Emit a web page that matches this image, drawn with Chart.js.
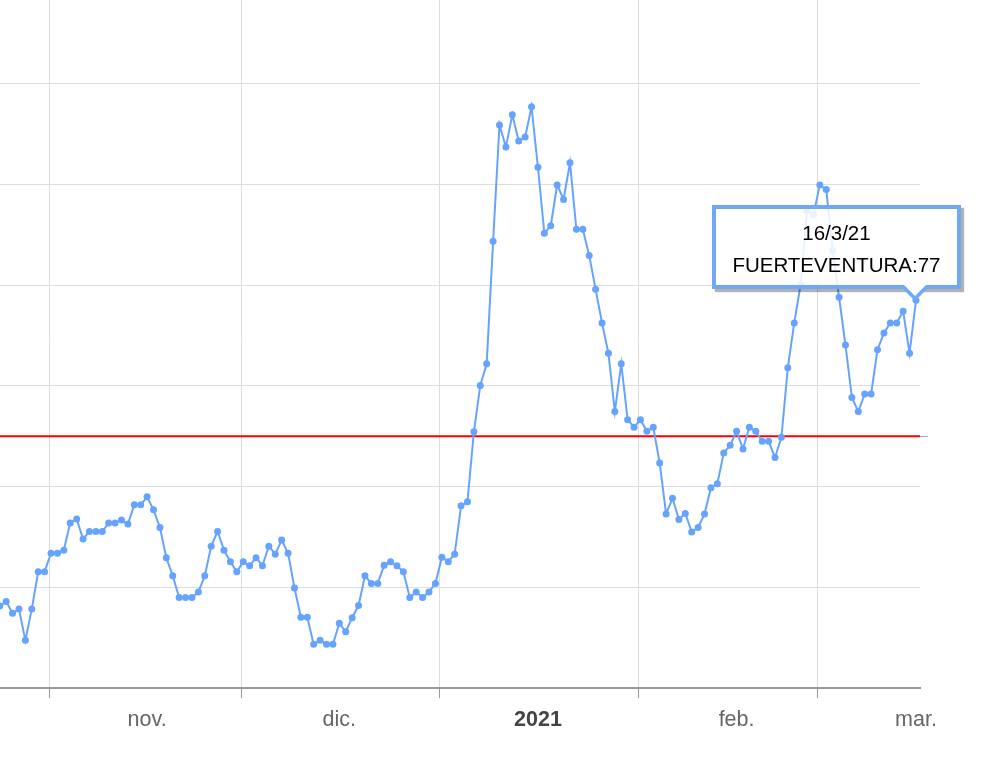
<!DOCTYPE html>
<html>
<head>
<meta charset="utf-8">
<title>Fuerteventura</title>
<script src="https://cdn.jsdelivr.net/npm/chart.js@4.4.1/dist/chart.umd.min.js"></script>
<style>
  body { margin: 0; background: #fff; }
  #wrap { position: relative; width: 984px; height: 774px; }
  #tip {
    position: absolute;
    box-sizing: border-box;
    width: 249px;
    height: 84px;
    border: 4px solid #6fa8f7;
    background: rgba(255, 255, 255, 0.86);
    box-shadow: 3px 3px 1px rgba(0, 0, 0, 0.3);
    font-family: 'Liberation Sans', Arial, sans-serif;
    font-size: 20.5px;
    line-height: 32px;
    color: #000;
    text-align: center;
    padding-top: 8px;
  }
  #tip .caret-out, #tip .caret-in {
    position: absolute;
    width: 0;
    height: 0;
  }
  #tip .caret-out {
    border-left: 16px solid transparent;
    border-right: 16px solid transparent;
    border-top: 16px solid #6fa8f7;
  }
  #tip .caret-in {
    border-left: 11px solid transparent;
    border-right: 11px solid transparent;
    border-top: 11px solid #fff;
  }
</style>
</head>
<body>
<div id="wrap">
  <canvas id="myChart" width="984" height="774"></canvas>
  <div id="tip">
    <div id="tip-title"></div>
    <div id="tip-body"></div>
    <div class="caret-out"></div>
    <div class="caret-in"></div>
  </div>
</div>
<script>
'use strict';

// global variables
let seriesName = 'FUERTEVENTURA';
let startDate = new Date(2020, 9, 24);   // first point, 24 oct 2020
let threshold = 50;

// one value per day, 24/10/20 .. 16/3/21
let values = [
  16.3, 17.2, 14.9, 15.7, 9.5, 15.7, 23.1, 23.1, 26.8, 26.8,
  27.4, 32.8, 33.6, 29.6, 31.1, 31.1, 31.1, 32.8, 32.8, 33.4,
  32.6, 36.4, 36.4, 38.0, 35.4, 31.9, 25.9, 22.3, 18.0, 18.0,
  18.0, 19.1, 22.3, 28.2, 31.1, 27.4, 25.1, 23.1, 25.1, 24.3,
  25.9, 24.3, 28.2, 26.6, 29.4, 26.8, 19.9, 14.1, 14.1, 8.7,
  9.5, 8.7, 8.7, 12.9, 11.2, 14.0, 16.4, 22.3, 20.8, 20.8,
  24.4, 25.1, 24.3, 23.1, 18.0, 19.1, 18.0, 19.1, 20.8, 26.0,
  25.1, 26.6, 36.2, 37.0, 50.9, 60.1, 64.4, 88.7, 111.8, 107.4,
  113.8, 108.6, 109.4, 115.4, 103.4, 90.3, 91.8, 99.9, 97.0, 104.3,
  91.1, 91.1, 85.9, 79.2, 72.5, 66.5, 54.9, 64.4, 53.3, 51.8,
  53.3, 51.0, 51.8, 44.7, 34.6, 37.7, 33.5, 34.7, 31.0, 31.9,
  34.6, 39.8, 40.6, 46.7, 48.2, 51.0, 47.5, 51.8, 51.0, 49.0,
  49.0, 45.8, 49.8, 63.6, 72.5, 80.1, 94.7, 94.0, 99.9, 99.0,
  86.9, 77.6, 68.1, 57.7, 54.9, 58.4, 58.4, 67.2, 70.5, 72.5,
  72.5, 74.8, 66.5, 77
];

// month boundaries (day index of the 1st) and their labels
let monthStarts = [8, 38, 69, 100, 128];
let monthLabels = ['nov.', 'dic.', '2021', 'feb.', 'mar.'];
let boldLabels = ['2021'];
let yTickValues = [0, 20, 40, 60, 80, 100, 120];

let ctx = document.getElementById('myChart');
let tip = document.getElementById('tip');

// helper functions
function dayLabel(i) {
  let d = new Date(startDate.getFullYear(), startDate.getMonth(), startDate.getDate() + i);
  return d.getDate() + '/' + (d.getMonth() + 1) + '/' + String(d.getFullYear()).slice(2);
}

function buildXTicks() {
  let ticks = [];
  for (let i = 0; i < monthStarts.length; i++) {
    // grid line just before the 1st, label on the 16th
    ticks.push({ value: monthStarts[i] - 0.3, kind: 'grid', text: '' });
    ticks.push({ value: monthStarts[i] + 15, kind: 'label', text: monthLabels[i] });
  }
  return ticks.sort((a, b) => a.value - b.value);
}

let points = values.map((v, i) => ({ x: i, y: v }));
let xMin = 0.04;
let xMax = 143.63;
let lastIndex = values.length - 1;

let myChartObj = {
  type: 'line',
  data: {
    datasets: [{
      label: seriesName,
      data: points,
      borderColor: '#66a3ff',
      backgroundColor: '#66a3ff',
      borderWidth: 2,
      pointRadius: 3.5,
      pointBorderWidth: 0,
      tension: 0
    },
    {
      label: 'umbral',
      data: [{ x: xMin, y: threshold }, { x: xMax, y: threshold }],
      borderColor: '#ff0000',
      borderWidth: 2,
      pointRadius: 0
    }]
  },
  options: {
    responsive: false,
    animation: false,
    events: [],
    layout: { autoPadding: false, padding: { left: 0, top: 0, right: 56, bottom: 32 } },
    plugins: {
      legend: { display: false },
      tooltip: { enabled: false }
    },
    scales: {
      x: {
        type: 'linear',
        min: xMin,
        max: xMax,
        afterBuildTicks: axis => { axis.ticks = buildXTicks(); },
        ticks: {
          autoSkip: false,
          maxRotation: 0,
          padding: 9,
          callback: (v, i, ticks) => ticks[i].text,
          color: c => (c.tick && boldLabels.includes(c.tick.text)) ? '#444' : '#666',
          font: c => ({
            family: "'Liberation Sans', Arial, sans-serif",
            size: 21.5,
            weight: (c.tick && boldLabels.includes(c.tick.text)) ? 'bold' : 'normal'
          })
        },
        grid: {
          color: c => (c.tick && c.tick.kind === 'grid') ? '#dddddd' : 'rgba(0,0,0,0)',
          tickColor: c => (c.tick && c.tick.kind === 'grid') ? '#999999' : 'rgba(0,0,0,0)',
          tickLength: 10,
          lineWidth: 1
        },
        border: { display: true, color: '#999999', width: 2 }
      },
      y: {
        min: 0,
        max: 136.6,
        afterBuildTicks: axis => { axis.ticks = yTickValues.map(v => ({ value: v })); },
        ticks: { display: false },
        grid: { color: '#dddddd', drawTicks: false, lineWidth: 1 },
        border: { display: false }
      },
      y2: {
        position: 'right',
        min: 0,
        max: 136.6,
        afterBuildTicks: axis => { axis.ticks = [{ value: threshold }]; },
        ticks: { display: false },
        grid: { drawOnChartArea: false, tickLength: 8, tickColor: '#aaaaaa' },
        border: { display: false }
      }
    }
  }
};

let myChart = new Chart(ctx, myChartObj);

// tooltip for the last day, anchored on the drawn point
function placeTip() {
  let pt = myChart.getDatasetMeta(0).data[lastIndex];
  let px = pt.x;
  let py = pt.y;
  document.getElementById('tip-title').textContent = dayLabel(lastIndex);
  document.getElementById('tip-body').textContent = seriesName + ':' + values[lastIndex];

  let left = px - 204;
  let top = py - 95;
  tip.style.left = left + 'px';
  tip.style.top = top + 'px';

  // caret positions, relative to the padding box
  let out = tip.querySelector('.caret-out');
  let inn = tip.querySelector('.caret-in');
  let baseY = 84 - 4 - 4;   // inner bottom of the border box
  out.style.left = (px - left - 4 - 16 - 1) + 'px';
  out.style.top = baseY + 'px';
  inn.style.left = (px - left - 4 - 11 - 1) + 'px';
  inn.style.top = baseY + 'px';
}

placeTip();
</script>
</body>
</html>
